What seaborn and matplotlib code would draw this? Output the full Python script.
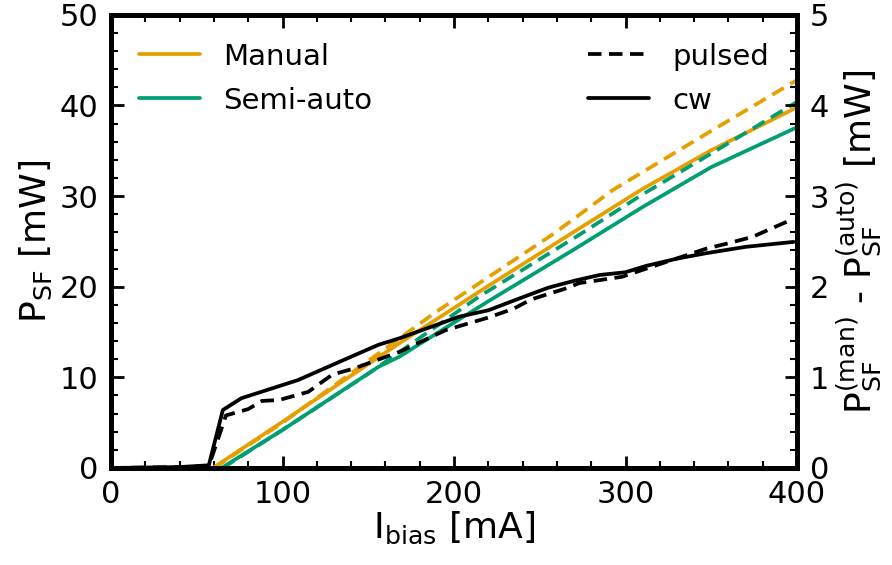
import matplotlib
matplotlib.use("Agg")
import matplotlib.pyplot as plt
import seaborn as sns
import numpy as np
import pandas as pd
from matplotlib.lines import Line2D
from matplotlib.ticker import MultipleLocator

# ---- data ----
man_cw_x = [59.4, 100, 168, 220, 272.8, 310, 350, 400]
man_cw_y = [0.0, 5.1, 13.75, 20.1, 26.4, 30.8, 35.06, 39.8]

auto_cw_x = [64.4, 100, 156, 168, 220, 269, 310, 350, 400]
auto_cw_y = [0.0, 4.2, 11.17, 12.27, 18.4, 24.0, 28.8, 33.2, 37.6]

man_pl_x = [60, 100, 189.6, 257.7, 272.8, 292.4, 350, 400]
man_pl_y = [0.0, 5.0, 17.23, 25.8, 27.9, 30.65, 37.2, 42.8]

auto_pl_x = [65, 100, 150, 214.5, 272.8, 310, 350, 400]
auto_pl_y = [0.0, 4.2, 10.4, 18.9, 25.7, 30.2, 34.7, 40.4]

diff_cw_x = [0, 20, 40, 57, 65.2, 76, 109, 133, 156, 168, 203, 220, 238, 255, 271, 285, 300, 312, 330, 347, 370, 398]
diff_cw_y = [0.0, 0.005, 0.01, 0.03, 0.64, 0.77, 0.97, 1.17, 1.36, 1.43, 1.67, 1.74, 1.87, 1.99, 2.07, 2.13, 2.16, 2.23, 2.31, 2.37, 2.44, 2.495]

diff_pl_x = [0, 40, 57, 67, 80, 88, 98, 115, 129, 142, 168, 195, 220, 235, 245, 265, 273, 298, 320, 347, 360, 374, 398]
diff_pl_y = [0.0, 0.01, 0.02, 0.58, 0.65, 0.74, 0.75, 0.84, 1.03, 1.10, 1.28, 1.52, 1.66, 1.76, 1.86, 1.98, 2.04, 2.11, 2.25, 2.42, 2.48, 2.55, 2.75]

ORANGE = "#E69F00"
GREEN = "#009E73"

sns.set_theme(style="ticks")
plt.rcParams["font.family"] = ["DejaVu Sans"]
plt.rcParams["mathtext.default"] = "regular"
for k in ("text.color", "axes.labelcolor", "xtick.color", "ytick.color", "axes.edgecolor"):
    plt.rcParams[k] = "black"

fig = plt.figure(figsize=(8.92, 5.65), dpi=100)
ax = fig.add_axes([0.1245, 0.1717, 0.769, 0.802])
ax2 = ax.twinx()

lw = 2.7
dash = (3.6, 2.0)
sns.lineplot(x=man_cw_x, y=man_cw_y, ax=ax, color=ORANGE, lw=lw)
sns.lineplot(x=auto_cw_x, y=auto_cw_y, ax=ax, color=GREEN, lw=lw)
sns.lineplot(x=man_pl_x, y=man_pl_y, ax=ax, color=ORANGE, lw=lw).lines[-1].set_dashes(dash)
sns.lineplot(x=auto_pl_x, y=auto_pl_y, ax=ax, color=GREEN, lw=lw).lines[-1].set_dashes(dash)

sns.lineplot(x=diff_cw_x, y=diff_cw_y, ax=ax2, color="black", lw=lw)
sns.lineplot(x=diff_pl_x, y=diff_pl_y, ax=ax2, color="black", lw=lw).lines[-1].set_dashes(dash)

ax.set_xlim(0, 400)
ax.set_ylim(0, 50)
ax2.set_ylim(0, 5)

ax.xaxis.set_major_locator(MultipleLocator(100))
ax.xaxis.set_minor_locator(MultipleLocator(20))
ax.yaxis.set_major_locator(MultipleLocator(10))
ax.yaxis.set_minor_locator(MultipleLocator(2))
ax2.yaxis.set_major_locator(MultipleLocator(1))
ax2.yaxis.set_minor_locator(MultipleLocator(0.2))

fs_tick = 22
fs_lab = 26
for a in (ax, ax2):
    a.tick_params(which="major", direction="in", length=9, width=2, labelsize=fs_tick, pad=9,
                  color="black", labelcolor="black")
    a.tick_params(which="minor", direction="in", length=5, width=1.5, color="black")
    for s in a.spines.values():
        s.set_linewidth(3.4)
        s.set_color("black")
ax.tick_params(which="both", top=True, right=False)
ax2.tick_params(which="both", left=False, right=True)

ax.set_xlabel(r"I$_{\mathrm{bias}}$ [mA]", fontsize=fs_lab, labelpad=0, color="black")
ax.set_ylabel(r"P$_{\mathrm{SF}}$ [mW]", fontsize=fs_lab, labelpad=4, color="black")
ax2.set_ylabel(r"P$_{\mathrm{SF}}^{\mathrm{(man)}}$ - P$_{\mathrm{SF}}^{\mathrm{(auto)}}$ [mW]",
               fontsize=fs_lab, labelpad=4, color="black")

fs_leg = 21
h1 = [Line2D([], [], color=ORANGE, lw=lw), Line2D([], [], color=GREEN, lw=lw)]
leg1 = ax2.legend(h1, ["Manual", "Semi-auto"], loc="upper left", frameon=False,
                  fontsize=fs_leg, handlelength=2.1, handletextpad=0.8, borderaxespad=0.5,
                  borderpad=0.45, labelspacing=0.55, labelcolor="black")
ax2.add_artist(leg1)
l_d = Line2D([], [], color="black", lw=lw)
l_d.set_dashes(dash)
h2 = [l_d, Line2D([], [], color="black", lw=lw)]
ax2.legend(h2, ["pulsed", "cw"], loc="upper right", frameon=False,
           fontsize=fs_leg, handlelength=2.1, handletextpad=0.8, borderaxespad=0.5,
           borderpad=0.45, labelspacing=0.55, labelcolor="black")

fig.savefig("out.png", dpi=100)
